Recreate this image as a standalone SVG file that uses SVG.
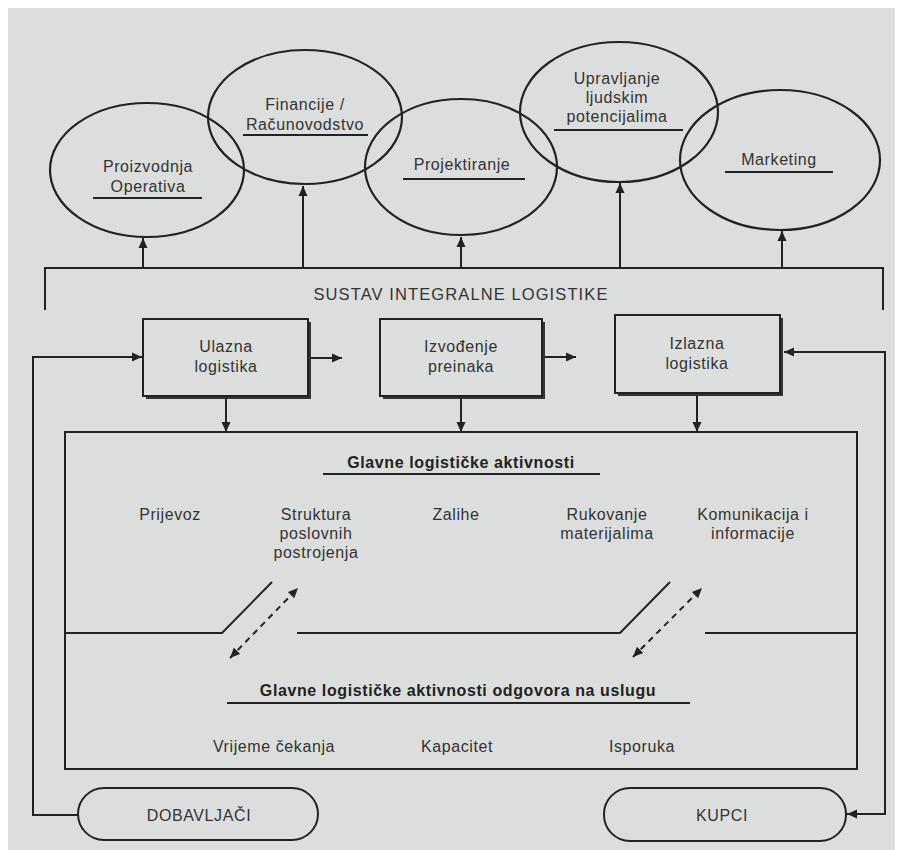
<svg xmlns="http://www.w3.org/2000/svg" width="903" height="850" viewBox="0 0 903 850">
<style>
.ln{fill:none;stroke:#222;stroke-width:2}
.el{fill:none;stroke:#222;stroke-width:2.2}
.t{font-family:"Liberation Sans",Arial,sans-serif;font-size:16px;fill:#333;letter-spacing:0.6px;text-anchor:middle}
.b{font-weight:bold;fill:#222}
.ul{stroke:#222;stroke-width:2}
.box{fill:#dddfde;stroke:#222;stroke-width:2}
.sh{fill:#333}
.dash{fill:none;stroke:#222;stroke-width:2;stroke-dasharray:6,5}
</style>
<defs>
<marker id="ah" viewBox="0 0 10 10" refX="10" refY="5" markerWidth="11" markerHeight="10" markerUnits="userSpaceOnUse" orient="auto-start-reverse">
<path d="M0,0.5 L10,5 L0,9.5 z" fill="#222"/>
</marker>
</defs>
<rect x="0" y="0" width="903" height="850" fill="#ffffff"/>
<rect x="8" y="8" width="887" height="842" fill="#dcdedd"/>

<g id="proizvodnja">
<ellipse class="el" cx="147" cy="170" rx="97" ry="67"/>
<text class="t" x="148" y="172">Proizvodnja</text>
<text class="t" x="148" y="192">Operativa</text>
<line class="ul" x1="93" y1="198" x2="202" y2="198"/>
</g>
<g id="financije">
<ellipse class="el" cx="305" cy="117" rx="97" ry="67"/>
<text class="t" x="305" y="110">Financije /</text>
<text class="t" x="305" y="130">Računovodstvo</text>
<line class="ul" x1="243" y1="135" x2="368" y2="135"/>
</g>
<g id="projektiranje">
<ellipse class="el" cx="461" cy="167" rx="96" ry="68"/>
<text class="t" x="462" y="170">Projektiranje</text>
<line class="ul" x1="403" y1="179" x2="525" y2="179"/>
</g>
<g id="upravljanje">
<ellipse class="el" cx="619" cy="112" rx="99" ry="70"/>
<text class="t" x="617" y="84">Upravljanje</text>
<text class="t" x="617" y="103">ljudskim</text>
<text class="t" x="617" y="122">potencijalima</text>
<line class="ul" x1="554" y1="130" x2="683" y2="130"/>
</g>
<g id="marketing">
<ellipse class="el" cx="780" cy="160" rx="100" ry="70"/>
<text class="t" x="779" y="165">Marketing</text>
<line class="ul" x1="725" y1="172" x2="833" y2="172"/>
</g>

<g id="sustav">
<path class="ln" d="M45,310 V268 H883 V310"/>
<text class="t" x="461" y="300" style="letter-spacing:1.1px;font-size:16.5px">SUSTAV INTEGRALNE LOGISTIKE</text>
</g>

<g id="ulazna">
<rect class="sh" x="146" y="322" width="165" height="77"/>
<rect class="box" x="143" y="319" width="165" height="77"/>
<text class="t" x="226" y="352">Ulazna</text>
<text class="t" x="226" y="372">logistika</text>
</g>
<g id="izvodenje">
<rect class="sh" x="383" y="322" width="162" height="77"/>
<rect class="box" x="380" y="319" width="162" height="77"/>
<text class="t" x="461" y="352">Izvođenje</text>
<text class="t" x="461" y="372">preinaka</text>
</g>
<g id="izlazna">
<rect class="sh" x="618" y="318" width="165" height="78"/>
<rect class="box" x="615" y="315" width="165" height="78"/>
<text class="t" x="697" y="349">Izlazna</text>
<text class="t" x="697" y="369">logistika</text>
</g>

<g id="aktivnosti">
<rect class="ln" x="65" y="432" width="792" height="337"/>
<text class="t b" x="461" y="468">Glavne logističke aktivnosti</text>
<line class="ul" x1="323" y1="474" x2="600" y2="474"/>
<text class="t" x="170" y="520">Prijevoz</text>
<text class="t" x="316" y="520">Struktura</text>
<text class="t" x="316" y="539">poslovnih</text>
<text class="t" x="316" y="558">postrojenja</text>
<text class="t" x="456" y="520">Zalihe</text>
<text class="t" x="607" y="520">Rukovanje</text>
<text class="t" x="607" y="539">materijalima</text>
<text class="t" x="753" y="520">Komunikacija i</text>
<text class="t" x="753" y="539">informacije</text>
<path class="ln" d="M65,633 H222 L272,582"/>
<path class="ln" d="M297,633 H620 L670,582"/>
<path class="ln" d="M705,633 H857"/>
<text class="t b" x="458" y="696">Glavne logističke aktivnosti odgovora na uslugu</text>
<line class="ul" x1="227" y1="703" x2="690" y2="703"/>
<text class="t" x="274" y="752">Vrijeme čekanja</text>
<text class="t" x="457" y="752">Kapacitet</text>
<text class="t" x="642" y="752">Isporuka</text>
</g>

<g id="dobavljaci">
<rect class="ln" x="78" y="788" width="240" height="52" rx="26"/>
<text class="t" x="199" y="821">DOBAVLJAČI</text>
</g>
<g id="kupci">
<rect class="ln" x="604" y="788" width="242" height="53" rx="26"/>
<text class="t" x="722" y="821">KUPCI</text>
</g>

<g id="connectors">
<path class="ln" d="M143,268 V238" marker-end="url(#ah)"/>
<path class="ln" d="M303,268 V186" marker-end="url(#ah)"/>
<path class="ln" d="M461,268 V237" marker-end="url(#ah)"/>
<path class="ln" d="M620,268 V183" marker-end="url(#ah)"/>
<path class="ln" d="M782,268 V231" marker-end="url(#ah)"/>
<path class="ln" d="M311,358 H342" marker-end="url(#ah)"/>
<path class="ln" d="M545,357 H576" marker-end="url(#ah)"/>
<path class="ln" d="M226,399 V432" marker-end="url(#ah)"/>
<path class="ln" d="M461,399 V432" marker-end="url(#ah)"/>
<path class="ln" d="M697,396 V432" marker-end="url(#ah)"/>
<path class="ln" d="M78,815 H33 V357 H142" marker-end="url(#ah)"/>
<path class="ln" d="M784,352 H885 V814 H847" marker-start="url(#ah)" marker-end="url(#ah)"/>
<path class="dash" d="M230,658 L298,588" marker-start="url(#ah)" marker-end="url(#ah)"/>
<path class="dash" d="M633,657 L702,588" marker-start="url(#ah)" marker-end="url(#ah)"/>
</g>
</svg>
